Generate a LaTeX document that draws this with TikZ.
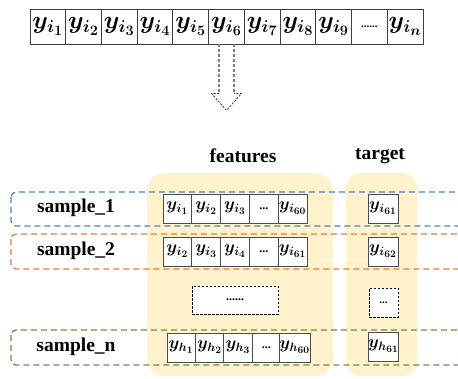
\documentclass[tikz,border=0pt]{standalone}
\usepackage{bm}
\usepackage{fontspec}
\setmainfont{Liberation Serif}
\DeclareMathSizes{24.88}{24.88}{17.28}{14.4}
\DeclareMathSizes{17.28}{17.28}{12}{10}
\definecolor{bgyellow}{RGB}{255,242,204}
\definecolor{sblue}{RGB}{79,129,189}
\definecolor{sorange}{RGB}{224,125,58}
\definecolor{sgreen}{RGB}{108,140,70}
\newcommand{\yy}[2]{$\bm{y_{#1_{#2}}}$}
\begin{document}
\begin{tikzpicture}[x=1pt,y=-1pt,
  topcell/.style={draw=black!75, line width=0.8pt, fill=white, minimum width=35.8pt, minimum height=35pt, inner sep=0pt, font=\fontsize{24.88}{28}\selectfont},
  cell/.style={draw=black!70, line width=0.8pt, fill=white, minimum width=28.8pt, minimum height=29pt, inner sep=0pt, font=\fontsize{17.28}{20}\selectfont},
  dotbox/.style={draw=black, dashed, dash pattern=on 2.5pt off 1.5pt, line width=0.7pt, fill=white, inner sep=0pt},
  lbl/.style={font=\fontsize{19.5}{23}\selectfont\bfseries},
  samp/.style={dash pattern=on 6pt off 4pt, line width=1.3pt, rounded corners=5pt},
  bg/.style={fill=bgyellow, rounded corners=18pt},
  arrowshaft/.style={draw=black!50, dash pattern=on 3pt off 2pt, line width=1.1pt},
  arrowhead/.style={draw=black!80, dash pattern=on 2pt off 1.5pt, line width=0.8pt}]
\useasboundingbox (0,0) rectangle (458,378);
% top row
\foreach \k/\s in {1/1,2/2,3/3,4/4,5/5,6/6,7/7,8/8,9/9,11/n}{
  \node[topcell] (t\k) at ({30+35.73*(\k-0.5)},26.5) {\yy{i}{\s}};
}
\node[topcell, font=\fontsize{11}{13}\selectfont\bfseries] (t10) at ({30+35.73*9.5},26.5) {......};
% dashed hollow arrow
\draw[arrowshaft] ([xshift=-7.5pt]t6.south) -- ++(0,49) coordinate (la);
\draw[arrowshaft] ([xshift=7.5pt]t6.south) -- ++(0,49) coordinate (ra);
\draw[arrowhead] (la) -- ++(-7.5,0) -- ++(15,17) coordinate (tip) -- ++(15,-17) -- (ra);
% backgrounds
\fill[bg] (147,173) rectangle (333,376);
\fill[bg, rounded corners=15pt] (346,173) rectangle (417,376);
% headings
\node[lbl] (hf) at (243,156) {features};
\node[lbl] (ht) at (380,156) {target};
% sample rows
\begin{scope}
\clip (0,0) rectangle (458,378);
\draw[samp, sblue] (11,192) rectangle (475,226);
\draw[samp, sorange] (11,234) rectangle (475,269);
\draw[samp, sgreen] (11,330) rectangle (475,365);
\end{scope}
\node[lbl] (s1) at (76,208) {sample\_1};
\node[lbl] (s2) at (76,251) {sample\_2};
\node[lbl] (sn) at (76,347) {sample\_n};
% feature cells row 1
\node[cell] (a1) at ({163+28.8*0.5},208.5) {\yy{i}{1}};
\node[cell] (a2) at ({163+28.8*1.5},208.5) {\yy{i}{2}};
\node[cell] (a3) at ({163+28.8*2.5},208.5) {\yy{i}{3}};
\node[cell, font=\fontsize{12}{14}\selectfont\bfseries] (a4) at ({163+28.8*3.5},208.5) {...};
\node[cell] (a5) at ({163+28.8*4.5},208.5) {\yy{i}{60}};
\node[cell, minimum width=30pt] (ta) at (383,208.5) {\yy{i}{61}};
% row 2
\node[cell] (b1) at ({163+28.8*0.5},251.5) {\yy{i}{2}};
\node[cell] (b2) at ({163+28.8*1.5},251.5) {\yy{i}{3}};
\node[cell] (b3) at ({163+28.8*2.5},251.5) {\yy{i}{4}};
\node[cell, font=\fontsize{12}{14}\selectfont\bfseries] (b4) at ({163+28.8*3.5},251.5) {...};
\node[cell] (b5) at ({163+28.8*4.5},251.5) {\yy{i}{61}};
\node[cell, minimum width=30pt] (tb) at (383,251.5) {\yy{i}{62}};
% dotted rows
\node[dotbox, minimum width=86pt, minimum height=28pt, font=\fontsize{12}{14}\selectfont\bfseries] (dfe) at (235,300) {......};
\node[dotbox, minimum width=29pt, minimum height=29pt, font=\fontsize{11}{13}\selectfont\bfseries] (dta) at (383.5,302.5) {...};
% row n
\node[cell, minimum width=28.4pt] (c1) at ({167+28.4*0.5},347.5) {\yy{h}{1}};
\node[cell, minimum width=28.4pt] (c2) at ({167+28.4*1.5},347.5) {\yy{h}{2}};
\node[cell, minimum width=28.4pt] (c3) at ({167+28.4*2.5},347.5) {\yy{h}{3}};
\node[cell, minimum width=28.4pt, font=\fontsize{12}{14}\selectfont\bfseries] (c4) at ({167+28.4*3.5},347.5) {...};
\node[cell, minimum width=28.4pt] (c5) at ({167+28.4*4.5},347.5) {\yy{h}{60}};
\node[cell, minimum width=29pt] (tc) at (383.5,346.5) {\yy{h}{61}};
\end{tikzpicture}
\end{document}
